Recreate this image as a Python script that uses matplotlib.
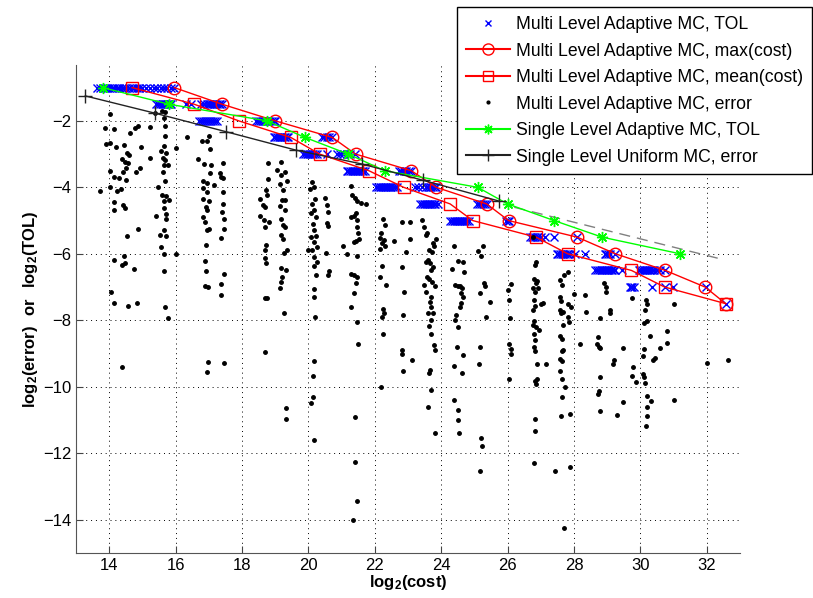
import matplotlib
matplotlib.use("Agg")
import matplotlib.pyplot as plt
from matplotlib.lines import Line2D

plt.rcParams['font.family'] = ['Liberation Sans', 'DejaVu Sans']
plt.rcParams['mathtext.fontset'] = 'custom'
plt.rcParams['mathtext.rm'] = 'Liberation Sans'
plt.rcParams['mathtext.bf'] = 'Liberation Sans:bold'

# TOL levels (log2) for the multi level adaptive runs
tol_levels = [-1, -1.5, -2, -2.5, -3, -3.5, -4, -4.5, -5, -5.5, -6, -6.5, -7, -7.5]

# log2(cost) of each run at every TOL level (blue crosses)
ml_tol_cost = [
    [13.62, 13.72, 13.8, 13.87, 13.93, 14.0, 14.08, 14.15, 14.22, 14.3, 14.38, 14.45, 14.52, 14.6,
     14.68, 14.75, 14.83, 14.9, 14.98, 15.1, 15.22, 15.35, 15.45, 15.55, 15.65, 15.75, 15.85, 15.95],
    [15.42, 15.48, 15.53, 15.58, 15.63, 15.68, 15.73, 15.78, 15.83, 15.87, 16.3, 16.45, 16.75,
     16.85, 16.95, 17.0, 17.05, 17.1, 17.15, 17.2, 17.25, 17.3, 17.35, 17.4],
    [16.7, 16.76, 16.82, 16.88, 16.94, 17.0, 17.06, 17.12, 17.18, 17.24, 18.42, 18.48, 18.54,
     18.6, 18.66, 18.72, 18.78, 18.84, 18.9, 18.96, 19.0],
    [18.95, 19.0, 19.05, 19.1, 19.15, 19.2, 19.25, 19.3, 19.35, 19.4, 20.4, 20.48, 20.55, 20.62, 20.7],
    [19.85, 19.9, 19.95, 20.0, 20.05, 20.1, 20.15, 20.2, 20.27, 20.55, 20.85, 20.95, 21.05, 21.15,
     21.25, 21.4],
    [21.15, 21.2, 21.25, 21.3, 21.35, 21.4, 21.45, 21.5, 21.55, 21.6, 21.65, 21.7, 22.72, 22.8,
     22.88, 22.95, 23.02, 23.1],
    [22.05, 22.1, 22.15, 22.2, 22.25, 22.3, 22.35, 22.4, 22.45, 22.5, 22.55, 22.6, 22.67, 23.2,
     23.3, 23.42, 23.55, 23.6, 23.65, 23.7, 23.75, 23.8, 23.85],
    [23.37, 23.42, 23.47, 23.52, 23.57, 23.62, 23.67, 23.72, 23.77, 23.82, 23.9, 25.08, 25.14,
     25.2, 25.26, 25.32, 25.37],
    [24.28, 24.33, 24.38, 24.43, 24.48, 24.53, 24.58, 24.63, 24.68, 24.73, 24.78, 24.85, 25.95,
     26.0, 26.05],
    [26.68, 26.73, 26.78, 26.83, 26.88, 26.93, 27.0, 27.14, 27.39, 28.1],
    [27.48, 27.53, 27.58, 27.63, 27.68, 27.73, 27.78, 27.83, 27.88, 28.04, 28.34, 28.92, 28.97,
     29.02, 29.08, 29.25],
    [28.64, 28.7, 28.75, 28.8, 28.85, 28.9, 28.95, 29.0, 29.05, 29.1, 29.15, 29.2, 29.25, 29.44,
     29.95, 30.0, 30.05, 30.1, 30.15, 30.2, 30.25, 30.3, 30.35, 30.4, 30.5, 30.6, 30.75],
    [29.68, 29.72, 29.76, 29.8, 30.35, 30.75, 30.97, 31.97],
    [32.57],
]

ml_max_cost = [15.96, 17.4, 19.0, 20.72, 21.42, 23.1, 23.85, 25.37, 26.03, 28.1, 29.25, 30.75, 31.95, 32.57]
ml_mean_cost = [14.69, 16.56, 17.9, 19.47, 20.34, 21.82, 22.87, 24.27, 24.95, 26.86, 27.81, 29.73, 30.73, 32.57]

# multi level adaptive MC: observed errors (log2 cost, log2 error)
err_cost = [
    14.01, 13.88, 14.13, 14.63, 14.78, 14.86, 15.22, 13.91, 14.03, 14.21, 14.45, 14.53, 14.38, 14.48,
    14.61, 14.95, 14.58, 14.51, 14.43, 14.03, 14.15, 14.28, 14.51, 14.81, 14.93, 15.24, 14.03, 13.73,
    14.23, 14.35, 14.15, 14.15, 14.43, 14.48, 14.55, 14.87, 14.15, 14.45, 14.38, 14.48, 14.76, 14.06,
    14.15, 14.58, 14.83, 14.38,
    15.39, 15.59, 15.69, 15.66, 15.69, 15.69, 15.66, 15.56, 15.62, 15.69, 15.72, 15.66, 15.76, 15.62,
    15.69, 15.46, 15.59, 15.72, 15.79, 15.66, 15.64, 15.72, 15.72, 15.42, 15.64, 15.52, 15.72, 16.02,
    16.01, 15.56, 15.66, 15.66, 15.68, 15.76, 16.34,
    16.79, 16.94, 17.02, 17.03, 16.67, 16.87, 17.07, 17.42, 17.03, 17.33, 17.38, 17.43, 16.81, 16.95,
    16.83, 16.96, 17.17, 17.43, 16.83, 17.01, 16.92, 16.96, 16.81, 16.88, 17.01, 16.95, 17.43, 17.41,
    17.45, 17.45, 17.37, 16.93, 16.9, 16.93, 16.9, 16.97, 17.45, 17.38, 17.37, 16.97, 16.95, 17.47,
    18.77, 18.78, 19.18, 19.06, 19.18, 19.3, 19.37, 19.14, 19.23, 18.71, 18.76, 18.54, 18.64, 18.7,
    19.19, 19.3, 19.13, 19.28, 19.18, 19.24, 19.3, 18.53, 18.65, 18.8, 18.68, 19.18, 19.23, 19.37,
    19.26, 18.72, 18.68, 18.68, 18.71, 19.18, 19.31, 19.21, 19.18, 19.14, 18.7, 18.76, 19.26, 18.69,
    19.34, 19.31,
    20.11, 20.16, 20.04, 20.21, 20.11, 20.18, 20.09, 20.24, 20.14, 20.18, 20.08, 20.24, 20.16, 19.98,
    20.11, 20.26, 20.18, 20.26, 20.16, 20.24, 20.18, 20.16, 20.21, 20.18, 20.14, 20.14, 20.08, 20.18,
    20.49, 20.55, 20.59, 20.57, 20.59, 20.52, 20.62, 20.59,
    21.27, 21.32, 21.39, 21.45, 21.59, 21.72, 21.42, 21.29, 21.37, 21.45, 21.47, 21.49, 21.42, 21.52,
    21.37, 21.05, 21.17, 21.47, 21.27, 21.37, 21.45, 21.42, 21.37, 21.27, 21.45, 21.49,
    22.25, 22.32, 22.19, 22.17, 22.29, 22.22, 22.57, 22.32, 22.17, 22.22, 22.17, 22.35, 22.25, 22.29,
    22.22, 22.25,
    22.82, 23.07, 23.07, 22.95, 22.82, 22.87, 22.85, 22.83, 22.83, 23.13, 22.85,
    23.43, 23.48, 23.56, 23.53, 23.83, 23.76, 23.78, 23.73, 23.63, 23.6, 23.53, 23.66, 23.76, 23.7,
    23.58, 23.63, 23.73, 23.8, 23.48, 23.53, 23.7, 23.66, 23.7, 23.76, 23.6, 23.68, 23.63, 23.7,
    23.78, 23.8, 23.66, 23.63,
    24.4, 24.5, 24.66, 24.33, 24.7, 24.43, 24.5, 24.56, 24.63, 24.6, 24.66, 24.6, 24.58, 24.46,
    24.43, 24.5, 24.48, 24.66, 24.4, 24.63,
    25.1, 25.26, 25.2, 25.3, 25.33, 25.18, 25.46, 25.36, 25.16, 25.14, 25.2, 25.23, 25.18,
    26.1, 26.0, 26.03, 26.06, 26.03, 26.1, 26.1, 26.03,
    26.78, 26.86, 26.83, 26.8, 26.9, 26.86, 26.78, 26.83, 26.93, 26.8, 26.83, 26.78, 27.0, 27.06,
    26.8, 26.78, 26.86, 26.96, 26.8, 26.83, 26.8, 26.83, 26.9, 27.16, 26.9, 26.83, 26.86, 26.83,
    26.83, 26.8,
    27.81, 27.69, 27.59, 27.64, 27.59, 27.61, 27.57, 27.67, 27.62, 27.81, 27.91, 27.81, 27.84, 27.67,
    27.59, 27.64, 27.67, 27.64, 27.59, 27.64, 27.57, 27.64, 27.74, 27.64, 27.61, 27.89, 27.44, 27.87,
    27.69, 28.01, 28.19, 28.34, 28.37,
    28.89, 28.97, 28.97, 28.79, 28.71, 28.69, 28.74, 28.79, 28.79, 28.74, 28.71, 28.77, 29.29, 29.47,
    29.47, 29.19, 29.17, 29.07, 29.07, 29.79, 29.74, 29.87,
    29.74, 30.17, 30.19, 30.14, 30.11, 30.19, 30.29, 30.11, 30.07, 30.09, 30.11, 30.14, 30.21, 30.31,
    30.19, 30.19, 30.17, 30.39, 30.44, 30.59, 30.81, 30.81, 31.01, 31.01, 32.02, 32.65,
    21.4, 21.4, 21.45, 21.33, 22.2, 23.7, 23.6, 24.4, 24.5, 24.5, 24.55, 23.8,
]
err_log2 = [
    -1.79, -2.22, -2.25, -2.37, -2.22, -2.17, -2.19, -2.69, -2.67, -2.8, -2.72, -2.96, -3.16, -3.23,
    -3.03, -2.8, -3.28, -3.43, -3.53, -3.51, -3.68, -3.71, -3.78, -3.53, -3.43, -3.13, -4.0, -4.11,
    -4.11, -4.06, -4.44, -4.69, -4.54, -4.61, -5.45, -5.26, -6.2, -6.07, -6.35, -6.28, -6.46, -7.16,
    -7.47, -7.56, -7.48, -9.4,
    -1.75, -1.69, -1.72, -1.92, -2.17, -2.47, -2.75, -2.92, -3.13, -3.18, -2.98, -3.33, -3.33, -3.53,
    -3.8, -3.98, -4.24, -4.27, -4.37, -4.41, -4.61, -4.79, -4.94, -4.87, -5.27, -5.44, -5.47, -2.83,
    -6.0, -5.81, -6.01, -6.52, -7.59, -7.93, -2.49,
    -2.62, -2.62, -2.47, -2.85, -3.15, -3.3, -3.33, -3.26, -3.56, -3.58, -3.68, -3.73, -3.8, -3.88,
    -4.03, -4.13, -3.93, -4.13, -4.36, -4.41, -4.58, -4.69, -4.89, -5.04, -5.24, -5.29, -4.49, -4.74,
    -4.94, -5.26, -5.51, -5.72, -6.22, -6.52, -6.98, -7.0, -6.62, -6.92, -7.24, -9.24, -9.55, -9.27,
    -3.28, -3.76, -3.23, -3.48, -3.63, -3.53, -3.8, -3.9, -4.08, -4.08, -4.24, -4.34, -4.54, -4.59,
    -4.39, -4.39, -4.57, -4.69, -4.94, -5.14, -5.19, -4.87, -4.99, -5.04, -5.19, -5.44, -5.54, -5.89,
    -5.99, -5.74, -5.89, -6.12, -6.28, -6.42, -6.5, -6.7, -6.85, -7.03, -7.34, -7.34, -7.77, -8.95,
    -10.65, -10.98,
    -3.83, -3.98, -4.06, -4.34, -4.49, -4.69, -4.77, -4.9, -5.09, -5.29, -5.49, -5.47, -5.64, -5.9,
    -5.9, -5.8, -6.1, -6.25, -6.38, -6.65, -7.05, -7.3, -7.9, -9.22, -9.67, -10.31, -10.48, -11.6,
    -4.33, -4.53, -4.73, -5.08, -5.16, -5.97, -6.51, -6.64,
    -3.96, -4.23, -4.33, -4.4, -4.48, -4.5, -4.78, -4.88, -4.86, -4.98, -5.18, -5.38, -5.6, -5.56,
    -5.63, -5.77, -6.01, -6.07, -6.61, -6.64, -6.69, -6.87, -7.17, -7.61, -8.04, -8.72,
    -4.96, -5.13, -5.38, -5.53, -5.58, -5.68, -5.61, -5.78, -5.87, -6.37, -6.69, -6.94, -7.67, -7.79,
    -7.89, -8.4,
    -5.03, -5.03, -5.56, -5.96, -6.41, -7.14, -7.84, -8.88, -9.0, -9.18, -9.53,
    -4.98, -5.18, -5.36, -5.43, -5.56, -5.68, -5.78, -5.94, -5.88, -6.19, -6.24, -6.29, -6.41, -6.49,
    -6.69, -6.77, -6.84, -6.97, -6.94, -7.14, -7.29, -7.44, -7.59, -7.77, -7.77, -7.99, -8.17, -8.42,
    -8.75, -8.9, -9.5, -9.58,
    -5.78, -6.21, -6.24, -6.47, -6.54, -6.94, -6.97, -6.97, -7.04, -7.17, -7.29, -7.49, -7.59, -7.84,
    -7.99, -8.19, -8.8, -9.05, -9.38, -9.6,
    -5.92, -5.77, -6.07, -6.87, -6.97, -7.17, -7.44, -7.91, -8.8, -9.3, -11.53, -11.79, -12.53,
    -6.91, -7.09, -7.39, -7.94, -8.7, -8.85, -9.0, -9.78,
    -5.48, -6.24, -6.34, -6.77, -6.81, -6.89, -7.04, -7.14, -7.04, -7.39, -7.57, -7.69, -7.51, -7.47,
    -8.01, -8.14, -8.19, -8.28, -8.4, -8.6, -8.8, -8.92, -9.3, -9.3, -9.77, -9.82, -9.92, -10.96,
    -11.33, -12.29,
    -6.54, -6.64, -6.79, -6.94, -7.29, -7.41, -7.69, -7.74, -7.79, -7.51, -7.61, -7.91, -8.04, -8.14,
    -8.48, -8.55, -8.88, -8.92, -9.15, -9.22, -9.52, -9.78, -10.0, -10.32, -10.89, -10.83, -12.53, -12.41,
    -14.24, -7.21, -8.7, -7.24, -7.74,
    -6.87, -6.99, -7.14, -7.94, -8.5, -8.7, -8.8, -8.82, -9.7, -10.13, -10.22, -10.73, -10.86, -10.45,
    -8.82, -9.2, -9.32, -7.69, -7.79, -9.42, -9.68, -9.85,
    -7.32, -7.39, -7.51, -7.69, -8.09, -8.01, -8.48, -8.85, -9.08, -9.63, -9.72, -9.88, -10.28, -10.42,
    -10.6, -10.89, -11.19, -9.18, -9.12, -8.82, -8.32, -8.68, -7.51, -10.4, -9.28, -9.18,
    -10.9, -12.25, -13.45, -14.0, -10.0, -10.1, -10.6, -10.4, -10.7, -11.0, -11.4, -11.4,
]

# single level adaptive MC (TOL)
sl_cost = [13.8, 15.8, 18.75, 19.9, 21.2, 22.3, 25.1, 26.0, 27.4, 28.85, 31.2]
sl_tol = [-1, -1.5, -2, -2.5, -3, -3.5, -4, -4.5, -5, -5.5, -6]

# single level uniform MC (error)
uni_cost = [13.28, 15.38, 17.53, 19.62, 21.62, 23.46, 25.73]
uni_err = [-1.25, -1.77, -2.33, -2.88, -3.3, -3.79, -4.41]

# reference slope (dashed)
ref_cost = [26.2, 32.4]
ref_val = [-4.6, -6.15]

star = (8, 2, 0)  # asterisk like matlab '*'

fig = plt.figure(figsize=(8.13, 5.98), dpi=100)
ax = fig.add_axes([0.0935, 0.0753, 0.8167, 0.816])

for lev, costs in zip(tol_levels, ml_tol_cost):
    ax.plot(costs, [lev] * len(costs), 'x', color='blue', ms=6, mew=1, zorder=3)
ax.plot(ml_max_cost, tol_levels, '-o', color='red', mfc='none', ms=9, lw=1, zorder=4)
ax.plot(ml_mean_cost, tol_levels, '-s', color='red', mfc='none', ms=8, lw=1, zorder=4)
ax.plot(err_cost, err_log2, '.', color='black', ms=5, zorder=5)
ax.plot(sl_cost, sl_tol, '-', marker=star, color='#00ff00', ms=8, lw=1, zorder=6)
ax.plot(uni_cost, uni_err, '-+', color='#222222', ms=10, lw=1, zorder=6)
ax.plot(ref_cost, ref_val, '--', color='gray', lw=1, dashes=(8, 5), zorder=2)

ax.set_xlim(13, 33)
ax.set_ylim(-15, -0.32)
ax.set_xticks(range(14, 33, 2))
ax.set_yticks(range(-14, -1, 2))
ax.grid(True, color='black', linestyle=(0, (1, 4)), linewidth=0.7)
ax.tick_params(direction='in', length=5, labelsize=12, colors='#444444', labelcolor='black')
for s in ['top', 'right']:
    ax.spines[s].set_visible(False)
for s in ['left', 'bottom']:
    ax.spines[s].set_color('#555555')

ax.set_xlabel(r'$\mathbf{log_2(cost)}$', fontsize=12, labelpad=0)
ax.set_ylabel(r'$\mathbf{log_2(error)\ \ or\ \ log_2(TOL)}$', fontsize=12, labelpad=2)

handles = [
    Line2D([], [], ls='none', marker='x', color='blue', ms=5),
    Line2D([], [], ls='-', marker='o', color='red', mfc='none', ms=8),
    Line2D([], [], ls='-', marker='s', color='red', mfc='none', ms=7),
    Line2D([], [], ls='none', marker='.', color='black', ms=4),
    Line2D([], [], ls='-', marker=star, color='#00ff00', ms=7),
    Line2D([], [], ls='-', marker='+', color='#222222', ms=9),
]
labels = ['Multi Level Adaptive MC, TOL', 'Multi Level Adaptive MC, max(cost)',
          'Multi Level Adaptive MC, mean(cost)', 'Multi Level Adaptive MC, error',
          'Single Level Adaptive MC, TOL', 'Single Level Uniform MC, error']
leg = fig.legend(handles, labels, loc='upper right', bbox_to_anchor=(0.9988, 0.988),
                 borderaxespad=0, fontsize=12.7, fancybox=False, framealpha=1, edgecolor='black',
                 handlelength=2.5, labelspacing=0.54, borderpad=0.5, handletextpad=0.35)
leg.get_frame().set_linewidth(1)

fig.savefig('out.png', dpi=100)
